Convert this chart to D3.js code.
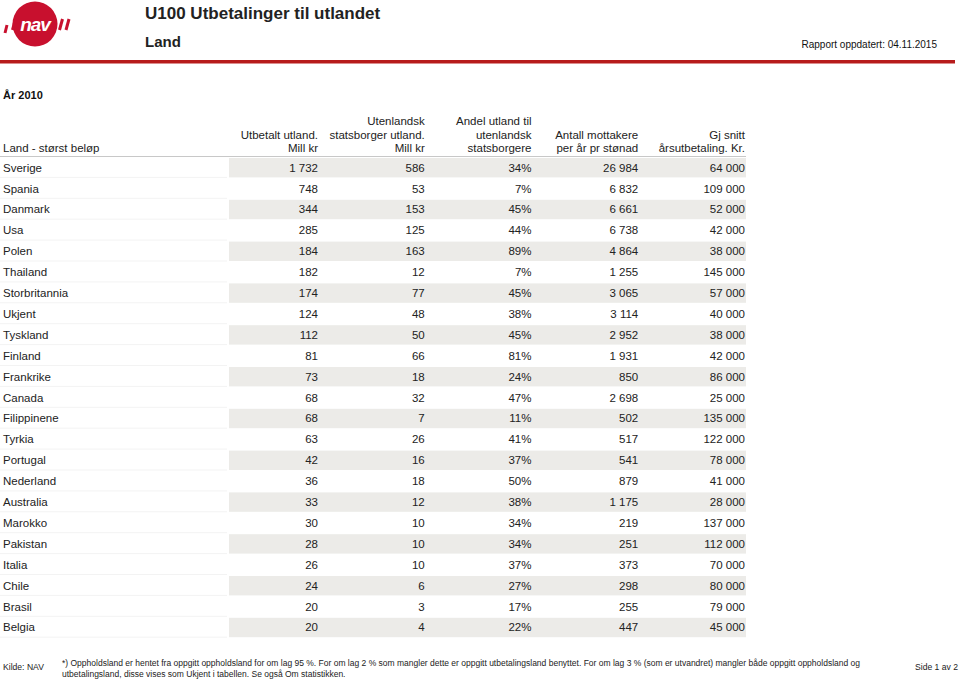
<!DOCTYPE html>
<html>
<head>
<meta charset="utf-8">
<script src="https://cdn.jsdelivr.net/npm/d3@7"></script>
<style>
html,body{margin:0;padding:0;background:#fff;}
svg{display:block;font-family:"Liberation Sans",Arial,sans-serif;}
</style>
</head>
<body>
<svg id="chart" width="960" height="681"></svg>
<script>
// ---- Data ----
const countries = ["Sverige","Spania","Danmark","Usa","Polen","Thailand","Storbritannia","Ukjent","Tyskland","Finland","Frankrike","Canada","Filippinene","Tyrkia","Portugal","Nederland","Australia","Marokko","Pakistan","Italia","Chile","Brasil","Belgia"];
const utbetaltMill = [1732,748,344,285,184,182,174,124,112,81,73,68,68,63,42,36,33,30,28,26,24,20,20];
const utenlandskMill = [586,53,153,125,163,12,77,48,50,66,18,32,7,26,16,18,12,10,10,10,6,3,4];
const andelPct = [34,7,45,44,89,7,45,38,45,81,24,47,11,41,37,50,38,34,34,37,27,17,22];
const mottakere = [26984,6832,6661,6738,4864,1255,3065,3114,2952,1931,850,2698,502,517,541,879,1175,219,251,373,298,255,447];
const snitt = [64000,109000,52000,42000,38000,145000,57000,40000,38000,42000,86000,25000,135000,122000,78000,41000,28000,137000,112000,70000,80000,79000,45000];

const colHeaders = [
  ["Utbetalt utland.","Mill kr"],
  ["Utenlandsk","statsborger utland.","Mill kr"],
  ["Andel utland til","utenlandsk","statsborgere"],
  ["Antall mottakere","per år pr stønad"],
  ["Gj snitt","årsutbetaling. Kr."]
];
const firstHeader = "Land - størst beløp";
const title = "U100 Utbetalinger til utlandet";
const subtitle = "Land";
const updated = "Rapport oppdatert: 04.11.2015";
const yearLabel = "År 2010";
const source = "Kilde: NAV";
const footnote = ["*) Oppholdsland er hentet fra oppgitt oppholdsland for om lag 95 %. For om lag 2 % som mangler dette er oppgitt utbetalingsland benyttet. For om lag 3 % (som er utvandret) mangler både oppgitt oppholdsland og",
                  "utbetalingsland, disse vises som Ukjent i tabellen. Se også Om statistikken."];
const pageLabel = "Side 1 av 2";

// ---- Setup ----
const svg = d3.select("#chart");
const loc = d3.formatLocale({decimal:",", thousands:"\u00a0", grouping:[3], currency:["","kr"]});
const fmtInt = loc.format(",d");
const fmtPct = v => v + "%";

const columns = [
  {key:"u", values: utbetaltMill, fmt: fmtInt},
  {key:"s", values: utenlandskMill, fmt: fmtInt},
  {key:"a", values: andelPct, fmt: fmtPct},
  {key:"m", values: mottakere, fmt: fmtInt},
  {key:"g", values: snitt, fmt: fmtInt}
];

const xCol = d3.scalePoint().domain(columns.map(c=>c.key)).range([318, 745]);
const rowScale = d3.scaleBand().domain(countries).range([157, 157 + 20.9*countries.length]).paddingInner(0);

const shadeX0 = 229, shadeX1 = 746;
const textColor = "#222";

// ---- Header ----
const red = "#c8102e";
const logo = svg.append("g").attr("transform","translate(35,24)");
logo.append("circle").attr("r",22.5).attr("fill",red);
logo.append("text").attr("x",0).attr("y",6.5).attr("text-anchor","middle")
  .attr("font-size",19).attr("font-weight","bold").attr("font-style","italic")
  .attr("fill","#fff").attr("letter-spacing",-1).text("nav");
const slash = (x1,y1,x2,y2) => logo.append("line").attr("x1",x1).attr("y1",y1).attr("x2",x2).attr("y2",y2)
  .attr("stroke",red).attr("stroke-width",3);
slash(-30,9,-28,1);
slash(-22.5,6,-19.5,-5);
slash(24.5,6,27.5,-5);
slash(31,6,34,-5);

svg.append("text").attr("x",145).attr("y",19).attr("font-size",17).attr("font-weight","bold")
  .attr("fill","#222").text(title);
svg.append("text").attr("x",145).attr("y",47).attr("font-size",15).attr("font-weight","bold")
  .attr("fill","#222").text(subtitle);
svg.append("text").attr("x",937).attr("y",48).attr("font-size",10).attr("text-anchor","end")
  .attr("fill","#111").text(updated);
svg.append("rect").attr("x",0).attr("y",60).attr("width",955).attr("height",3.5).attr("fill","#b71c1c");

svg.append("text").attr("x",3).attr("y",99).attr("font-size",11).attr("font-weight","bold")
  .attr("fill","#111").text(yearLabel);

// Column headers
const hdrBase = 152, lh = 13.5;
svg.append("text").attr("x",3).attr("y",hdrBase).attr("font-size",11.5).attr("fill","#222").text(firstHeader);
columns.forEach((c,i)=>{
  const lines = colHeaders[i];
  lines.forEach((ln,j)=>{
    svg.append("text").attr("x",xCol(c.key)).attr("y",hdrBase - (lines.length-1-j)*lh)
      .attr("font-size",11.5).attr("text-anchor","end").attr("fill","#222").text(ln);
  });
});
svg.append("line").attr("x1",0).attr("x2",shadeX1).attr("y1",156.5).attr("y2",156.5)
  .attr("stroke","#c8c8c8").attr("stroke-width",1.2);

// ---- Rows ----
const rows = svg.append("g").selectAll("g").data(countries).join("g")
  .attr("transform", d=>`translate(0,${rowScale(d)})`);
const bh = rowScale.bandwidth();
rows.append("rect").attr("x",shadeX0).attr("y",1).attr("width",shadeX1-shadeX0).attr("height",bh-1.5)
  .attr("fill",(d,i)=> i%2===0 ? "#ecebe8" : "none");
rows.append("line").attr("x1",0).attr("x2",shadeX0-2).attr("y1",bh-0.5).attr("y2",bh-0.5)
  .attr("stroke","#f3f3f3").attr("stroke-width",1);
rows.append("text").attr("x",3).attr("y",bh*0.5+4.2).attr("font-size",11.5).attr("fill",textColor).text(d=>d);
columns.forEach(c=>{
  rows.append("text").attr("x",xCol(c.key)).attr("y",bh*0.5+4.2).attr("font-size",11.5)
    .attr("text-anchor","end").attr("fill",textColor)
    .text((d,i)=>c.fmt(c.values[i]));
});

// ---- Footer ----
svg.append("text").attr("x",3).attr("y",670).attr("font-size",8.6).attr("fill","#222").text(source);
footnote.forEach((ln,j)=>{
  svg.append("text").attr("x",62).attr("y",666 + j*11).attr("font-size",8.5).attr("fill","#222").text(ln);
});
svg.append("text").attr("x",958).attr("y",670).attr("font-size",8.6).attr("text-anchor","end").attr("fill","#222").text(pageLabel);
</script>
</body>
</html>
